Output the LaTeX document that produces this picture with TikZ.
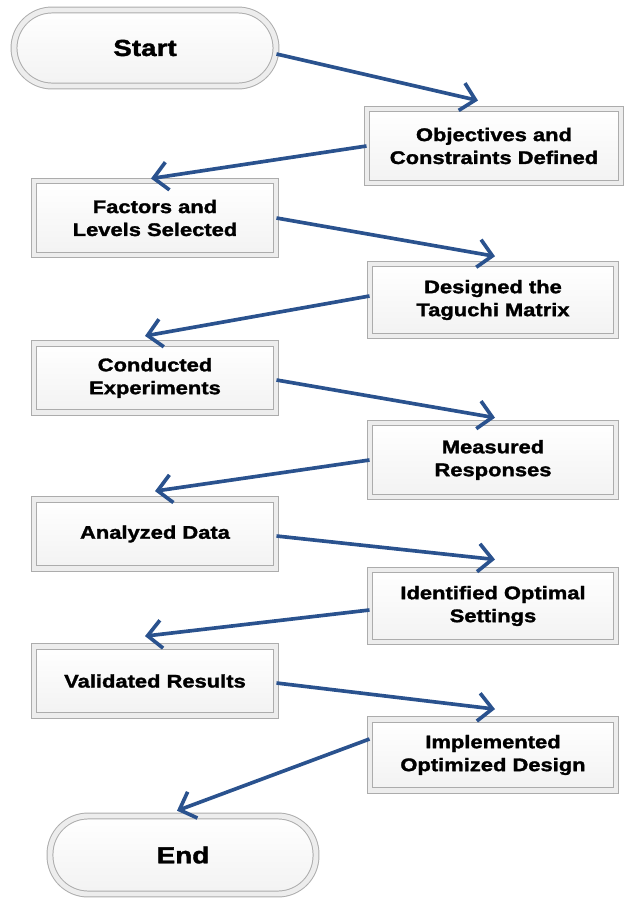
\documentclass[tikz,border=0pt]{standalone}
\usepackage{fontspec}
\setmainfont{Liberation Sans}[FakeStretch=1.2, BoldFeatures={FakeBold=1.6}]
\usetikzlibrary{arrows.meta}

\definecolor{flowblue}{RGB}{42,82,142}

\tikzset{
  stepbox/.style={rectangle, draw=gray!65, line width=0.7pt,
    double=gray!14, double distance=3.5pt,
    top color=white, bottom color=gray!10,
    align=center, inner sep=0pt,
    font=\bfseries\fontsize{13}{16.3}\selectfont},
  termbox/.style={stepbox, rounded corners=9.5mm,
    font=\bfseries\fontsize{16.5}{19}\selectfont},
  flow/.style={draw=flowblue, line width=2.6pt,
    -{Straight Barb[length=3.5mm,width=7mm]}},
}

\begin{document}
\begin{tikzpicture}[]
\useasboundingbox (0,0) rectangle (15.65,-22.65);

\node[termbox, minimum width=6.55cm, minimum height=1.9cm] (start) at (3.625,-1.2) {Start};
\node[stepbox, minimum width=6.35cm, minimum height=1.85cm] (obj) at (12.35,-3.65) {Objectives and\\Constraints Defined};
\node[stepbox, minimum width=6.05cm, minimum height=1.85cm] (fac) at (3.875,-5.45) {Factors and\\Levels Selected};
\node[stepbox, minimum width=6.15cm, minimum height=1.8cm] (des) at (12.325,-7.5) {Designed the\\Taguchi Matrix};
\node[stepbox, minimum width=6.05cm, minimum height=1.72cm] (con) at (3.875,-9.45) {Conducted\\Experiments};
\node[stepbox, minimum width=6.15cm, minimum height=1.85cm] (mea) at (12.325,-11.5) {Measured\\Responses};
\node[stepbox, minimum width=6.05cm, minimum height=1.72cm] (ana) at (3.875,-13.35) {Analyzed Data};
\node[stepbox, minimum width=6.15cm, minimum height=1.8cm] (ide) at (12.325,-15.15) {Identified Optimal\\Settings};
\node[stepbox, minimum width=6.05cm, minimum height=1.72cm] (val) at (3.875,-17.025) {Validated Results};
\node[stepbox, minimum width=6.15cm, minimum height=1.77cm] (imp) at (12.325,-18.875) {Implemented\\Optimized Design};
\node[termbox, minimum width=6.65cm, minimum height=1.95cm] (end) at (4.575,-21.375) {End};

\draw[flow] ([yshift=-1.5mm]start.east) -- ([xshift=-4mm,yshift=2mm]obj.north);
\draw[flow] (obj.west) -- ([xshift=-1mm,yshift=0.5mm]fac.north);
\draw[flow] (fac.east) -- ([xshift=0.5mm,yshift=1.8mm]des.north);
\draw[flow] ([yshift=1mm]des.west) -- ([xshift=-2.5mm,yshift=1.8mm]con.north);
\draw[flow] ([yshift=-0.5mm]con.east) -- ([xshift=0.5mm,yshift=1.2mm]mea.north);
\draw[flow] (mea.west) -- ([yshift=2mm]ana.north);
\draw[flow] ([yshift=-0.5mm]ana.east) -- ([xshift=0.5mm,yshift=2.5mm]ide.north);
\draw[flow] ([yshift=-1mm]ide.west) -- ([xshift=-2.5mm,yshift=2.5mm]val.north);
\draw[flow] ([yshift=-0.5mm]val.east) -- ([xshift=0.5mm,yshift=2.5mm]imp.north);
\draw[flow] ([yshift=4mm]imp.west) -- ([xshift=-1.5mm,yshift=1.2mm]end.north);

\end{tikzpicture}
\end{document}
